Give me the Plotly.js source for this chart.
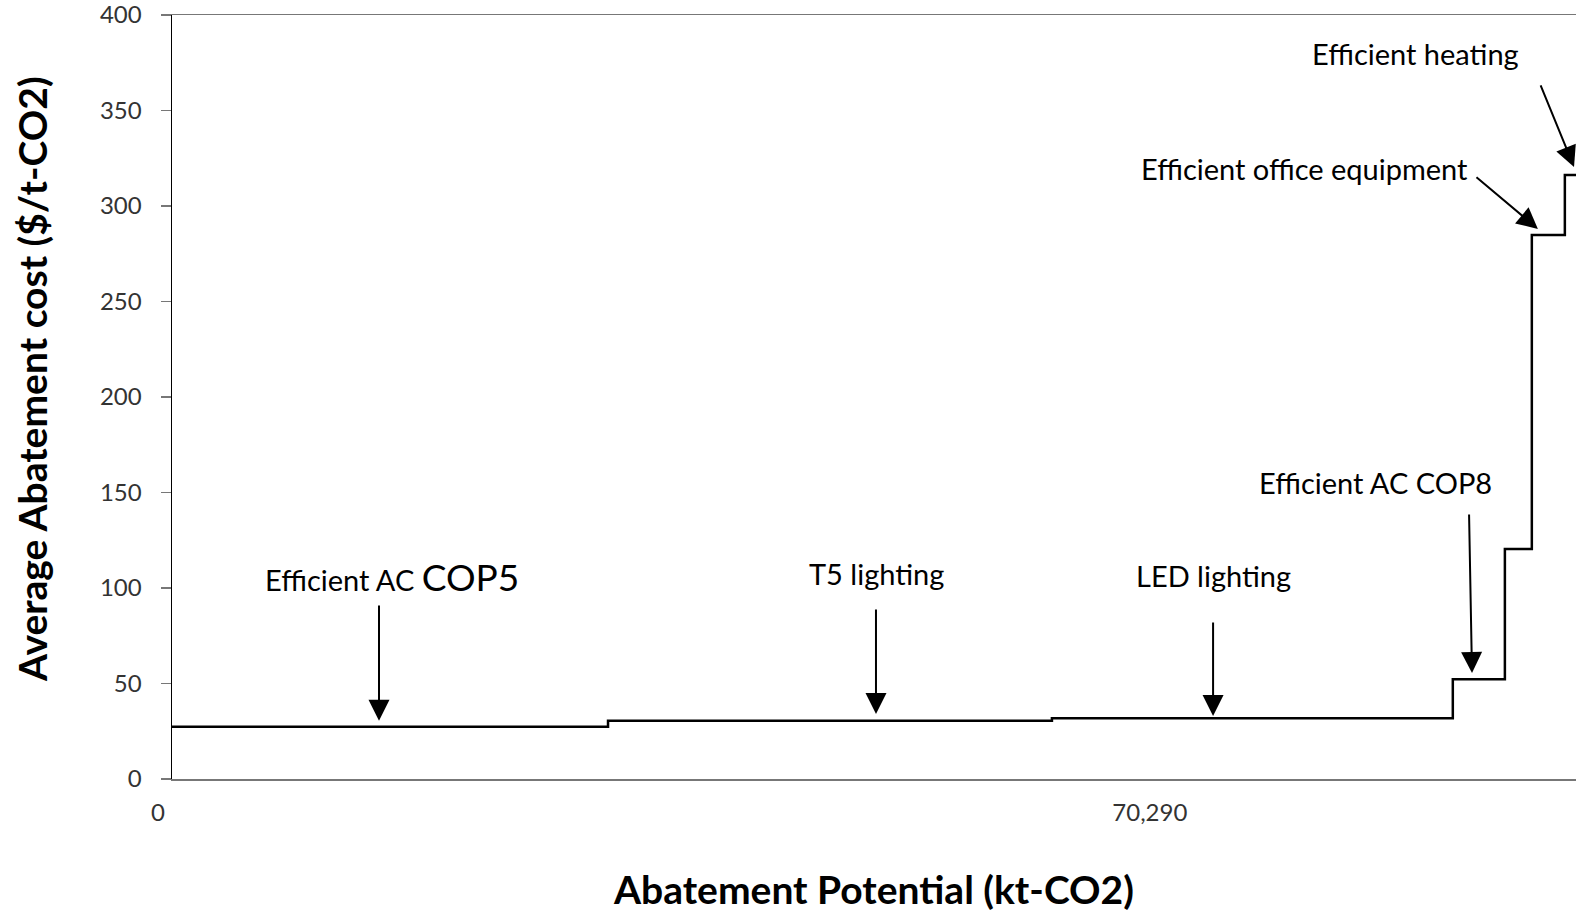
<!DOCTYPE html>
<html>
<head>
<meta charset="utf-8">
<script src="https://cdn.plot.ly/plotly-3.0.1.min.js"></script>
<style>html,body{margin:0;padding:0;background:#fff;}#chart{width:1576px;height:912px;}</style>
</head>
<body>
<div id="chart"></div>
<script>
// Abatement measures (step order), cumulative abatement potential at end of each step (kt-CO2), average cost ($/t-CO2)
const measures = ["Efficient AC COP5", "T5 lighting", "LED lighting", "Efficient AC COP8", "(unlabelled)", "Efficient office equipment", "Efficient heating"];
const stepEnd = [30900, 62360, 90770, 94460, 96370, 98710, 99700];
const cost = [27.4, 30.5, 31.8, 52.2, 120.4, 284.8, 316.2];
const xTickVals = [0, 70290];
const xTickText = ["0", "70,290"];

// build step-line points: each step starts where the previous ended
const xs = [0];
const ys = [cost[0]];
for (let i = 1; i < cost.length; i++) { xs.push(stepEnd[i - 1]); ys.push(cost[i]); }
xs.push(stepEnd[stepEnd.length - 1]); ys.push(cost[cost.length - 1]);

const trace = {
  x: xs, y: ys, type: 'scatter', mode: 'lines',
  line: {shape: 'hv', color: '#000', width: 2.5},
  hoverinfo: 'skip'
};

const FONT = 'Lato, "Open Sans", sans-serif';
const txtFont = {family: FONT, size: 29, color: '#000'};
function label(text, x, y) {
  return {x: x, y: y, xref: 'x', yref: 'y', text: text, showarrow: false, font: txtFont, xanchor: 'center', yanchor: 'middle'};
}
function arrow(tx, ty, hx, hy) {
  return {x: hx, y: hy, ax: tx, ay: ty, xref: 'x', yref: 'y', axref: 'x', ayref: 'y', text: '',
          showarrow: true, arrowhead: 2, arrowsize: 2.1, arrowwidth: 2, arrowcolor: '#000', standoff: 0, startstandoff: 0};
}

const annotations = [
  label('Efficient AC <span style="font-size:37px">COP5</span>', 15600, 106),
  arrow(14670, 91.6, 14670, 30.5),
  label('T5 lighting', 49900, 107.5),
  arrow(49890, 89.5, 49890, 34),
  label('LED lighting', 73800, 106.5),
  arrow(73780, 82.7, 73780, 33),
  label('Efficient AC COP8', 85300, 155.3),
  arrow(91920, 139.3, 92130, 55.5),
  label('Efficient office equipment', 80250, 319.5),
  arrow(92340, 315.7, 96800, 288),
  label('Efficient heating', 88100, 380),
  arrow(96950, 363.9, 99360, 320.4)
];

const layout = {
  width: 1576, height: 912,
  margin: {l: 172, r: 0, t: 15, b: 133},
  paper_bgcolor: '#fff', plot_bgcolor: '#fff',
  showlegend: false,
  xaxis: {
    range: [0, 99500],
    showgrid: false, zeroline: false,
    showline: true, linecolor: '#777', linewidth: 1.5, mirror: true,
    tickmode: 'array', tickvals: xTickVals, ticktext: xTickText,
    ticks: '', ticklabelshift: -14, ticklabelstandoff: 12, ticklabeloverflow: 'allow',
    tickfont: {family: FONT, size: 24, color: '#333'},
    title: {text: '<b>Abatement Potential (kt-CO2)</b>', standoff: 52,
            font: {family: FONT, size: 39, color: '#000'}}
  },
  yaxis: {
    range: [0, 400], dtick: 50, tick0: 0,
    showgrid: false, zeroline: false,
    showline: true, linecolor: '#000', linewidth: 1.5,
    ticks: 'outside', ticklen: 10, tickcolor: '#777', tickwidth: 1.5,
    ticklabelstandoff: 14, ticklabeloverflow: 'allow',
    tickfont: {family: FONT, size: 24, color: '#333'},
    title: {text: '<b>&nbsp;&nbsp;&nbsp;&nbsp;Average Abatement cost ($/t-CO2)</b>', standoff: 40,
            font: {family: FONT, size: 39, color: '#000'}}
  },
  annotations: annotations
};

Plotly.newPlot('chart', [trace], layout, {displayModeBar: false, staticPlot: true});
</script>
</body>
</html>
